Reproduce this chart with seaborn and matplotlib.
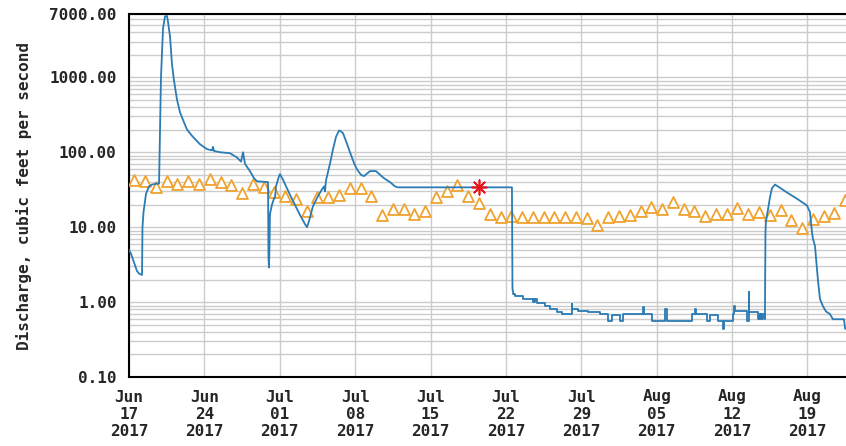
import numpy as np
import pandas as pd
import matplotlib
matplotlib.use("Agg")
import matplotlib.pyplot as plt
from matplotlib.ticker import LogLocator, FixedLocator, FixedFormatter, NullFormatter
import seaborn as sns

# days since 2017-06-17 00:00 and discharge (cfs)
flow_days = [0.00, 0.19, 0.46, 0.74, 0.93, 1.21, 1.25, 1.35, 1.58, 1.86, 2.14, 2.51, 2.79,
             2.97, 3.16, 3.34, 3.53, 3.62, 3.81, 3.99, 4.18, 4.46, 4.74, 5.11, 5.39, 5.94,
             6.59, 7.24, 7.71, 7.80, 7.89, 8.45, 9.38, 10.03, 10.40, 10.59, 10.77, 11.23,
             11.61, 11.88, 12.81, 12.91, 12.95, 13.00, 13.05, 13.09, 13.28, 13.46, 13.56,
             13.65, 13.93, 14.02, 14.30, 14.95, 15.88, 16.34, 16.53, 16.71, 17.08, 17.55,
             17.92, 18.11, 18.20, 18.29, 18.66, 18.94, 19.22, 19.50, 19.68, 19.87, 20.24,
             20.52, 20.89, 21.17, 21.54, 21.82, 22.38, 22.93, 23.31, 23.68, 24.23, 24.70,
             24.98, 35.47, 35.56, 35.61, 35.69]
flow_cfs = [5.0, 4.4, 3.4, 2.6, 2.4, 2.3, 10, 16, 28, 35, 37, 38, 38,
            1000, 4500, 6500, 6600, 5500, 3500, 1500, 900, 500, 340, 250, 200, 160,
            128, 110, 106, 118, 104, 100, 97, 85, 75, 100, 70, 56,
            45, 41, 40, 40, 4.0, 2.9, 6.0, 15, 20, 24, 25,
            35, 48, 51, 43, 27, 14.5, 11, 10, 12, 19, 26,
            32, 35, 30, 42, 70, 109, 160, 195, 190, 180, 130,
            100, 72, 59, 50, 48, 56, 56, 50, 45, 40, 35,
            34, 34, 34, 1.5, 1.3]

# low-flow period, drawn as steps
low_days = [35.69, 35.84, 36.61, 37.54, 37.60, 37.65, 37.70, 37.85, 38.63, 39.09, 39.71,
            40.17, 41.10, 41.15, 41.72, 42.65, 43.73, 44.50, 44.82, 45.59, 45.84, 47.75,
            47.82, 48.53, 49.77, 49.93, 50.08, 52.25, 52.55, 52.62, 53.64, 53.95, 54.72,
            55.18, 55.25, 56.11, 56.20, 56.30, 57.38, 57.54, 57.60, 58.43, 58.50, 58.60,
            58.70, 58.80, 58.90, 59.05]
low_cfs = [1.3, 1.2, 1.1, 1.0, 1.1, 1.0, 1.1, 0.97, 0.89, 0.8, 0.73,
           0.69, 0.95, 0.8, 0.75, 0.73, 0.69, 0.56, 0.67, 0.56, 0.69, 0.85,
           0.69, 0.56, 0.8, 0.56, 0.56, 0.69, 0.8, 0.69, 0.56, 0.67, 0.56,
           0.44, 0.56, 0.7, 0.9, 0.75, 0.56, 1.37, 0.73, 0.6, 0.69, 0.6,
           0.69, 0.6, 0.69, 0.6]

rise_days = [59.05, 59.10, 59.14, 59.33, 59.52, 59.70, 59.98, 60.26, 61.10, 62.02, 62.95,
             63.14, 63.23, 63.42, 63.51, 63.70, 63.97, 64.16, 64.44, 64.72, 65.09, 65.37,
             66.39, 66.50]
rise_cfs = [0.6, 8, 12, 17, 25, 33, 37, 35, 29, 24, 19.5,
            17, 16, 8.6, 7, 5.6, 2.0, 1.1, 0.88, 0.75, 0.69, 0.59,
            0.59, 0.44]

# daily median of daily mean discharge, Jun 17 - Aug 22
median_cfs = [43, 41, 34, 41, 38, 41, 38, 44, 40, 36, 29, 38, 34, 29.5,
              26, 24, 16.5, 25, 25, 27, 33, 33, 26, 14.5, 17.4, 17.4, 14.9, 16.5,
              25, 30, 37, 26, 21, 15.2, 13.7, 14.2, 13.7, 13.7, 13.7, 13.7, 13.5,
              13.5, 13.2, 10.7, 13.5,
              14.2, 14.6, 16.5, 18.6, 17.4, 22, 17.4, 16.2, 14.2, 14.9, 14.9, 17.8,
              14.9, 16, 14.5, 17, 12.5, 9.6, 13, 14.2, 15.4, 23]

# current value marker
current_day = 32.5
current_cfs = 34

base = pd.Timestamp("2017-06-17")
to_dt = lambda d: base + pd.to_timedelta(np.asarray(d, dtype=float), unit="D")

main_df = pd.DataFrame({"t": to_dt(flow_days), "q": flow_cfs})
rise_df = pd.DataFrame({"t": to_dt(rise_days), "q": rise_cfs})
low_df = pd.DataFrame({"t": to_dt(low_days), "q": low_cfs})
med_df = pd.DataFrame({"t": to_dt(np.arange(len(median_cfs)) + 0.5), "q": median_cfs})

sns.set_style("white")
plt.rcParams["font.family"] = ["DejaVu Sans Mono"]
plt.rcParams["font.weight"] = "bold"

fig = plt.figure(figsize=(8.46, 4.46), dpi=100)
ax = fig.add_axes([129 / 846, 69 / 446, 717 / 846, 363 / 446])

blue = "#2b7bb4"
orange = "#f0a22e"

sns.scatterplot(data=med_df, x="t", y="q", marker="^", s=62, facecolor="white",
                edgecolor=orange, linewidth=1.3, ax=ax, zorder=3)
for seg in [main_df, rise_df]:
    sns.lineplot(data=seg, x="t", y="q", color=blue, lw=1.3,
                 sort=False, estimator=None, ax=ax, zorder=4)
sns.lineplot(data=low_df, x="t", y="q", color=blue, lw=1.3, drawstyle="steps-post",
             sort=False, estimator=None, ax=ax, zorder=4)
ax.scatter(to_dt([current_day]), [current_cfs], marker=(8, 2, 0), s=110,
           color="#e8141c", linewidths=1.2, zorder=5)

ax.set_yscale("log")
ax.set_ylim(0.1, 7000)
ax.set_xlim(base, base + pd.Timedelta(days=66.58))

yt = [0.1, 1, 10, 100, 1000, 7000]
ax.yaxis.set_major_locator(FixedLocator(yt))
ax.yaxis.set_major_formatter(FixedFormatter([f"{v:.2f}" for v in yt]))
ax.yaxis.set_minor_locator(LogLocator(base=10, subs=np.arange(2, 10), numticks=20))
ax.yaxis.set_minor_formatter(NullFormatter())

xt = pd.date_range("2017-06-17", "2017-08-19", freq="7D")
ax.set_xticks(xt)
ax.set_xticklabels([d.strftime("%b\n%d\n%Y") for d in xt])

ax.grid(True, which="both", axis="y", color="#cccccc", lw=1)
ax.grid(True, which="major", axis="x", color="#cccccc", lw=1)
ax.set_axisbelow(True)

ax.tick_params(axis="both", which="both", length=0, labelsize=11.5)
ax.tick_params(axis="y", pad=9)
ax.tick_params(axis="x", pad=9)
for s in ["left", "bottom", "top"]:
    ax.spines[s].set_color("black")
    ax.spines[s].set_linewidth(1.5)
ax.spines["right"].set_visible(False)

ax.set_xlabel("")
ax.set_ylabel("Discharge, cubic feet per second", fontsize=11.5, fontweight="bold", labelpad=12)

fig.savefig("out.png", dpi=100)
